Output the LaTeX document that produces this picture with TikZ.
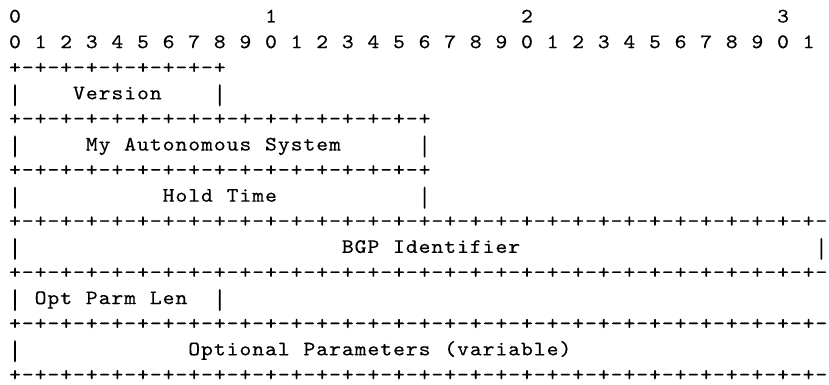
\documentclass[tikz,border=0pt]{standalone}
\usepackage{graphicx}
\newlength\cw
\setlength\cw{12.8pt}
\makeatletter
\def\cells#1{\cells@i#1\relax}
\def\cells@i#1{\ifx\relax#1\else\hbox to\cw{\hss#1\hss}\expandafter\cells@i\fi}
\makeatother
\newcommand\sk[1]{\hskip#1\cw}
\newcommand\vbar{\hbox to\cw{\hss\raisebox{-7pt}{\resizebox{\width}{22pt}{\raisebox{\depth}{|}}}\hss}}
\font\ascfont="[lmmono10-regular]:extend=1.1;embolden=0.35" at 20.5pt
\tikzset{
  asciiline/.style={anchor=base west, inner sep=0pt, outer sep=0pt,
    font=\ascfont, text=black},
}
\begin{document}
\begin{tikzpicture}[x=1pt,y=1pt]
\useasboundingbox (0,0) rectangle (829,-385);
\def\xz{8.6}
\def\rowy#1{-22.5-25.6*#1}
\node[asciiline] (r0) at (\xz,{\rowy{0}}) {\cells{0}\sk{19}\cells{1}\sk{19}\cells{2}\sk{19}\cells{3}};
\node[asciiline] (r1) at (\xz,{\rowy{1}}) {\cells{0}\sk1\cells{1}\sk1\cells{2}\sk1\cells{3}\sk1\cells{4}\sk1\cells{5}\sk1\cells{6}\sk1\cells{7}\sk1\cells{8}\sk1\cells{9}\sk1\cells{0}\sk1\cells{1}\sk1\cells{2}\sk1\cells{3}\sk1\cells{4}\sk1\cells{5}\sk1\cells{6}\sk1\cells{7}\sk1\cells{8}\sk1\cells{9}\sk1\cells{0}\sk1\cells{1}\sk1\cells{2}\sk1\cells{3}\sk1\cells{4}\sk1\cells{5}\sk1\cells{6}\sk1\cells{7}\sk1\cells{8}\sk1\cells{9}\sk1\cells{0}\sk1\cells{1}};
\node[asciiline] (r2) at (\xz,{\rowy{2}}) {\cells{+-+-+-+-+-+-+-+-+}};
\node[asciiline] (r3) at (\xz,{\rowy{3}}) {\vbar\sk4\cells{Version}\sk4\vbar};
\node[asciiline] (r4) at (\xz,{\rowy{4}}) {\cells{+-+-+-+-+-+-+-+-+-+-+-+-+-+-+-+-+}};
\node[asciiline] (r5) at (\xz,{\rowy{5}}) {\vbar\sk5\cells{My}\sk1\cells{Autonomous}\sk1\cells{System}\sk6\vbar};
\node[asciiline] (r6) at (\xz,{\rowy{6}}) {\cells{+-+-+-+-+-+-+-+-+-+-+-+-+-+-+-+-+}};
\node[asciiline] (r7) at (\xz,{\rowy{7}}) {\vbar\sk{11}\cells{Hold}\sk1\cells{Time}\sk{11}\vbar};
\node[asciiline] (r8) at (\xz,{\rowy{8}}) {\cells{+-+-+-+-+-+-+-+-+-+-+-+-+-+-+-+-+-+-+-+-+-+-+-+-+-+-+-+-+-+-+-+-}};
\node[asciiline] (r9) at (\xz,{\rowy{9}}) {\vbar\sk{25}\cells{BGP}\sk1\cells{Identifier}\sk{23}\vbar};
\node[asciiline] (r10) at (\xz,{\rowy{10}}) {\cells{+-+-+-+-+-+-+-+-+-+-+-+-+-+-+-+-+-+-+-+-+-+-+-+-+-+-+-+-+-+-+-+-}};
\node[asciiline] (r11) at (\xz,{\rowy{11}}) {\vbar\sk1\cells{Opt}\sk1\cells{Parm}\sk1\cells{Len}\sk2\vbar};
\node[asciiline] (r12) at (\xz,{\rowy{12}}) {\cells{+-+-+-+-+-+-+-+-+-+-+-+-+-+-+-+-+-+-+-+-+-+-+-+-+-+-+-+-+-+-+-+-}};
\node[asciiline] (r13) at (\xz,{\rowy{13}}) {\vbar\sk{13}\cells{Optional}\sk1\cells{Parameters}\sk1\cells{(variable)}};
\node[asciiline] (r14) at (\xz,{\rowy{14}}) {\cells{+-+-+-+-+-+-+-+-+-+-+-+-+-+-+-+-+-+-+-+-+-+-+-+-+-+-+-+-+-+-+-+-}};
\end{tikzpicture}
\end{document}
